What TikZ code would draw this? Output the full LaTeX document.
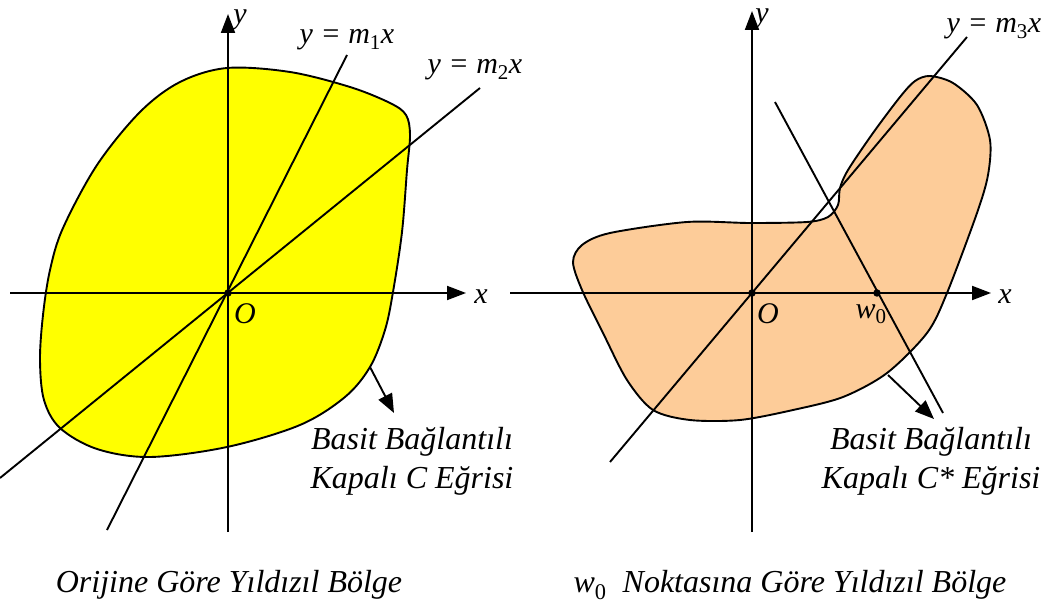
\documentclass[tikz,border=0pt]{standalone}
\usepackage{fontspec}
\setmainfont{Liberation Serif}
\usetikzlibrary{arrows.meta}
\definecolor{peach}{RGB}{253,204,153}
\definecolor{yel}{RGB}{255,255,0}
\newcommand{\sbs}[1]{\textsubscript{\upshape #1}}
\begin{document}
\begin{tikzpicture}[x=1pt,y=-1pt,
  ln/.style={line width=1.9pt},
  axis/.style={line width=1.9pt,-{Triangle[length=19pt,width=14pt]}},
  ptr/.style={line width=1.9pt,-{Triangle[length=19pt,width=15pt]}},
  lbl/.style={font=\fontsize{30}{34}\selectfont\itshape, inner sep=0pt},
  captxt/.style={font=\fontsize{32}{39}\selectfont\itshape, inner sep=0pt, align=center},
  dot/.style={circle,fill=black,inner sep=0pt,minimum size=7.5pt}]
\useasboundingbox (0,0) rectangle (1051,609);
% ---------------- left ----------------
\filldraw[fill=yel,ln] plot[smooth cycle,tension=0.55] coordinates{
 (227,68) (290,72) (350,87) (390,103) (406,115) (410,135) (407,170) (402,232)
 (393,292) (385,330) (370,367) (345,397) (300,425) (227,447) (150,457) (97,449)
 (60,428) (44,400) (40,360) (43,315) (50,270) (63,228) (97,165) (140,112) (180,82)};
\coordinate (O1) at (228,293);
\coordinate (m1a) at (107,530); \coordinate (m1b) at (347,55);
\coordinate (m2a) at (0,478); \coordinate (m2b) at (480,88);
\coordinate (xl0) at (10,293); \coordinate (xl1) at (466,293);
\coordinate (yl0) at (228,532); \coordinate (yl1) at (228,14);
\draw[ln] (m1a) -- (m1b);
\draw[ln] (m2a) -- (m2b);
\draw[axis] (xl0) -- (xl1);
\draw[axis] (yl0) -- (yl1);
\node[dot] (d1) at (O1) {};
\node[lbl] (lO1) at (245,314) {O};
\node[lbl] (lx1) at (481,297) {x};
\node[lbl] (ly1) at (240,20) {y};
\node[lbl] (lm1) at (347,40) {y = m\sbs{1}x};
\node[lbl] (lm2) at (475,70) {y = m\sbs{2}x};
\coordinate (c1) at (370,367); \coordinate (c1t) at (394,413);
\draw[ptr] (c1) -- (c1t);
\node[captxt] (C1) at (412,461) {Basit Bağlantılı\\Kapalı C Eğrisi};
\node[captxt] (T1) at (229,585) {Orijine Göre Yıldızıl Bölge};
% ---------------- right ----------------
\filldraw[fill=peach,ln] plot[smooth cycle,tension=0.5] coordinates{
 (573,262) (582,245) (610,233) (687,222) (750,223) (807,222) (828,217) (838,205)
 (840,188) (848,170) (873,133) (900,97) (915,81) (930,76) (953,83) (977,105)
 (990,140) (988,175) (977,213) (947,293) (927,333) (887,373) (843,397) (793,410)
 (740,420) (690,420) (653,410) (627,380) (603,333) (582,290)};
\coordinate (O2) at (752,293);
\coordinate (W) at (877,293);
\coordinate (m3a) at (610,462); \coordinate (m3b) at (967,37);
\coordinate (wa) at (775,102); \coordinate (wb) at (943,413);
\coordinate (xr0) at (510,293); \coordinate (xr1) at (991,293);
\coordinate (yr0) at (752,532); \coordinate (yr1) at (752,11);
\draw[ln] (m3a) -- (m3b);
\draw[ln] (wa) -- (wb);
\draw[axis] (xr0) -- (xr1);
\draw[axis] (yr0) -- (yr1);
\node[dot] (d2) at (O2) {};
\node[dot] (d3) at (W) {};
\node[lbl] (lO2) at (768,314) {O};
\node[lbl] (lw0) at (871,314) {w\sbs{0}};
\node[lbl] (lx2) at (1005,297) {x};
\node[lbl] (ly2) at (762,19) {y};
\node[lbl] (lm3) at (994,29) {y = m\sbs{3}x};
\coordinate (c2) at (888,375); \coordinate (c2t) at (934,419);
\draw[ptr] (c2) -- (c2t);
\node[captxt] (C2) at (931,461) {Basit Bağlantılı\\Kapalı C* Eğrisi};
\node[captxt] (T2) at (790,585) {w\sbs{0} \ Noktasına Göre Yıldızıl Bölge};
\end{tikzpicture}
\end{document}
